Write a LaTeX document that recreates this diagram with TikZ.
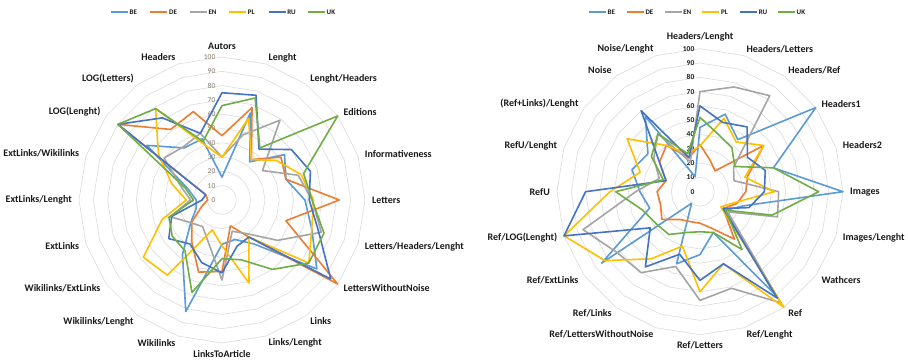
\documentclass[tikz,border=0pt]{standalone}
\usepackage{fontspec}
\setmainfont{Carlito}
\usetikzlibrary{calc}

\definecolor{cBE}{HTML}{5B9BD5}
\definecolor{cDE}{HTML}{ED7D31}
\definecolor{cEN}{HTML}{A5A5A5}
\definecolor{cPL}{HTML}{FFC000}
\definecolor{cRU}{HTML}{4472C4}
\definecolor{cUK}{HTML}{70AD47}
\definecolor{gridgray}{HTML}{DEDEDE}
\definecolor{tickgray}{HTML}{857B70}
\definecolor{labelblack}{HTML}{1A1A1A}

\tikzset{
  gridline/.style={draw=gridgray, line width=0.65pt},
  seriesline/.style={line width=1.6pt, line join=round, line cap=round},
  axlabel/.style={font=\bfseries\fontsize{10}{12}\selectfont, text=labelblack, inner sep=0pt},
  ltick/.style={font=\fontsize{7.5}{9}\selectfont, text=tickgray, inner sep=0pt, anchor=east},
  rtick/.style={font=\bfseries\fontsize{7.5}{9}\selectfont, text=labelblack, inner sep=0pt, anchor=east},
  legtext/.style={font=\bfseries\fontsize{7}{8}\selectfont, text=labelblack, inner sep=0pt, anchor=west},
}

% radar grid: ten concentric 20-gons around (#1,#2)
\newcommand\radargrid[2]{%
  \foreach \k in {1,...,10} {
    \draw[gridline] ({#1},{#2-14.3*\k})
      \foreach \i in {1,...,19} { -- ({#1+14.3*\k*sin(\i*18)},{#2-14.3*\k*cos(\i*18)}) } -- cycle;
  }
}

% one data series: name, colour, centre x, centre y, twenty values (0..100)
\newcommand\radarseries[5]{%
  \foreach \v [count=\i from 0] in {#5} {
    \coordinate (#1-\i) at ({#3+1.43*\v*sin(\i*18)},{#4-1.43*\v*cos(\i*18)});
  }
  \draw[seriesline, draw=#2] (#1-0) \foreach \i in {1,...,19} { -- (#1-\i) } -- cycle;
}

% legend row starting at x = #1, item spacing #2
\newcommand\radarlegend[3]{%
  \foreach \s [count=\j from 0] in {BE,DE,EN,PL,RU,UK} {
    \coordinate (#3-\s-a) at ({#1+#2*\j},12);
    \coordinate (#3-\s-b) at ({#1+#2*\j+17},12);
    \draw[seriesline, line cap=butt, line width=1.8pt, draw=c\s] (#3-\s-a) -- (#3-\s-b);
    \node[legtext] (#3-\s-t) at ({#1+#2*\j+18.5},12) {\s};
  }
}

\begin{document}
\begin{tikzpicture}[x=1pt,y=-1pt]
\useasboundingbox (0,0) rectangle (908,362);
\fill[white] (0,0) rectangle (908,362);

% ---------------- left chart ----------------
\radargrid{222}{200}
\foreach \k in {0,...,10} {
  \pgfmathtruncatemacro\val{\k*10}
  \node[ltick] (lt-\k) at (215.5,{200-14.3*\k}) {\val};
}
\radarseries{L-BE}{cBE}{222}{200}{16,64,33,54,47,58,66,82,38,29,31,82,47,27,19,18,25,65,45,45}
\radarseries{L-DE}{cDE}{222}{200}{45,68,35,51,47,82,47,100,32,19,50,53,36,26,15,10,12,90,61,65}
\radarseries{L-EN}{cEN}{222}{200}{30,48,69,35,56,63,73,48,29,23,56,31,23,27,38,22,30,50,46,49}
\radarseries{L-PL}{cPL}{222}{200}{30,60,35,47,58,64,66,75,32,61,32,22,65,68,44,25,37,55,79,41}
\radarseries{L-RU}{cRU}{222}{200}{75,77,44,60,65,61,71,94,32,34,51,46,38,46,37,14,12,90,71,49}
\radarseries{L-UK}{cUK}{222}{200}{66,75,45,100,60,63,75,75,60,44,41,68,44,43,39,20,27,90,79,43}

\foreach \i/\a/\t in {0/south/Autors, 1/west/Lenght, 2/west/{Lenght/Headers}, 3/west/Editions,
    4/west/Informativeness, 5/west/Letters, 6/west/{Letters/Headers/Lenght},
    7/west/LettersWithoutNoise, 8/west/Links, 9/west/{Links/Lenght}, 10/north/LinksToArticle,
    11/east/Wikilinks, 12/east/{Wikilinks/Lenght}, 13/east/{Wikilinks/ExtLinks}, 14/east/ExtLinks,
    15/east/{ExtLinks/Lenght}, 16/east/{ExtLinks/Wikilinks}, 17/east/LOG(Lenght),
    18/east/LOG(Letters), 19/east/Headers} {
  \node[axlabel, anchor=\a] (L-lab-\i) at ({222+150*sin(\i*18)},{200-150*cos(\i*18)}) {\t};
}
\radarlegend{111}{39.4}{L}

% ---------------- right chart ----------------
\radargrid{700}{191.7}
\foreach \k in {0,...,10} {
  \pgfmathtruncatemacro\val{\k*10}
  \node[rtick] (rt-\k) at (694.5,{191.7-14.3*\k}) {\val};
}
\radarseries{R-BE}{cBE}{700}{191.7}{45,57,45,100,54,100,32,22,88,30,44,53,10,85,37,42,50,45,65,11}
\radarseries{R-DE}{cDE}{700}{191.7}{33,23,18,55,35,32,27,20,41,27,22,22,24,33,29,30,25,35,40,25}
\radarseries{R-EN}{cEN}{700}{191.7}{70,77,83,29,25,55,57,24,96,71,76,55,70,72,86,45,30,40,50,22}
\radarseries{R-PL}{cPL}{700}{191.7}{32,54,43,55,33,52,25,18,100,53,70,40,58,82,100,63,44,63,40,28}
\radarseries{R-RU}{cRU}{700}{191.7}{60,51,56,41,48,45,36,20,92,53,62,46,65,43,100,80,25,35,70,25}
\radarseries{R-UK}{cUK}{700}{191.7}{52,42,38,30,54,83,53,22,50,30,28,30,37,38,42,59,27,42,50,28}

\foreach \i/\a/\t in {0/south/{Headers/Lenght}, 1/west/{Headers/Letters}, 2/west/{Headers/Ref},
    3/west/Headers1, 4/west/Headers2, 5/west/Images, 6/west/{Images/Lenght}, 7/west/Wathcers,
    8/west/Ref, 9/west/{Ref/Lenght}, 10/north/{Ref/Letters}, 11/east/{Ref/LettersWithoutNoise},
    12/east/{Ref/Links}, 13/east/{Ref/ExtLinks}, 14/east/{Ref/LOG(Lenght)}, 15/east/RefU,
    16/east/{RefU/Lenght}, 17/east/{(Ref+Links)/Lenght}, 18/east/Noise, 19/east/{Noise/Lenght}} {
  \node[axlabel, anchor=\a] (R-lab-\i) at ({700+150*sin(\i*18)},{191.7-150*cos(\i*18)}) {\t};
}
\radarlegend{589}{37.8}{R}
\end{tikzpicture}
\end{document}
